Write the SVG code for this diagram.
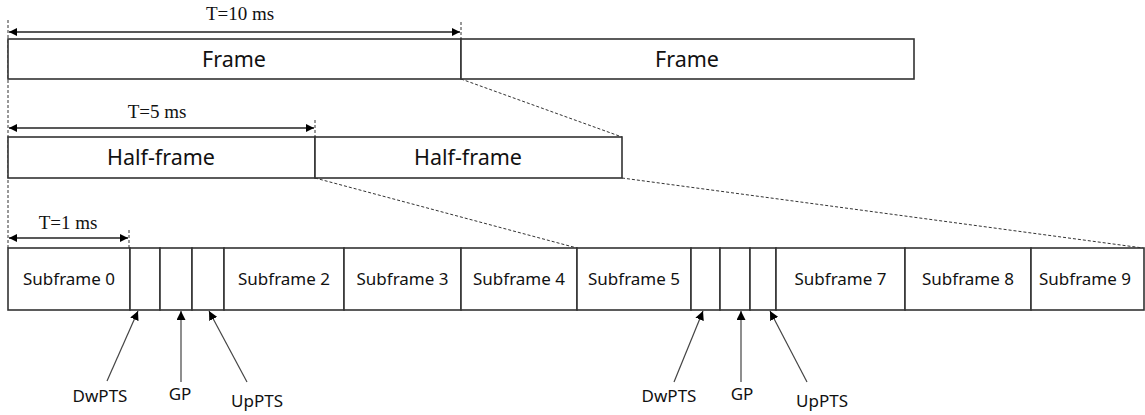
<svg xmlns="http://www.w3.org/2000/svg" width="1145" height="415" viewBox="0 0 1145 415">
<defs>
<marker id="ah" viewBox="0 0 10 10" refX="10" refY="5" markerWidth="8" markerHeight="8" markerUnits="userSpaceOnUse" orient="auto-start-reverse">
<path d="M0,0 L10,5 L0,10 z" fill="#000"/>
</marker>
<marker id="pt" viewBox="0 0 10 10" refX="10" refY="5" markerWidth="9" markerHeight="9" markerUnits="userSpaceOnUse" orient="auto">
<path d="M0,0 L10,5 L0,10 z" fill="#000"/>
</marker>
<style>
.box{fill:#fff;stroke:#333;stroke-width:1.6}
.lbl{font-family:"Noto Sans","Open Sans",sans-serif;font-size:21.5px;fill:#111;text-anchor:middle}
.sub{font-family:"Noto Sans","Open Sans",sans-serif;font-size:17px;fill:#111;text-anchor:middle}
.ann{font-family:"Noto Sans","Open Sans",sans-serif;font-size:17px;fill:#111;text-anchor:middle}
.tm{font-family:"Liberation Serif",serif;font-size:19px;fill:#111;text-anchor:middle}
.dash{fill:none;stroke:#333;stroke-width:1;stroke-dasharray:3,2}
.dim{fill:none;stroke:#222;stroke-width:1.4}
.ptr{fill:none;stroke:#444;stroke-width:1.2}
</style>
</defs>

<g id="connectors">
<line class="dash" x1="8" y1="20" x2="8" y2="248"/>
<line class="dash" x1="461" y1="22" x2="461" y2="39"/>
<line class="dash" x1="315" y1="120" x2="315" y2="137"/>
<line class="dash" x1="129" y1="230" x2="129" y2="248"/>
<line class="dash" x1="461" y1="79" x2="622" y2="137"/>
<line class="dash" x1="315" y1="178" x2="577" y2="248"/>
<line class="dash" x1="622" y1="178" x2="1143" y2="248"/>
<line class="dim" x1="9" y1="32" x2="460" y2="32" marker-start="url(#ah)" marker-end="url(#ah)"/>
<line class="dim" x1="9" y1="128" x2="314" y2="128" marker-start="url(#ah)" marker-end="url(#ah)"/>
<line class="dim" x1="9" y1="238" x2="128" y2="238" marker-start="url(#ah)" marker-end="url(#ah)"/>
<line class="ptr" x1="107" y1="381" x2="138" y2="311" marker-end="url(#pt)"/>
<line class="ptr" x1="181" y1="382" x2="181" y2="311" marker-end="url(#pt)"/>
<line class="ptr" x1="247" y1="382" x2="209" y2="311" marker-end="url(#pt)"/>
<line class="ptr" x1="674" y1="382" x2="703" y2="311" marker-end="url(#pt)"/>
<line class="ptr" x1="741" y1="382" x2="741" y2="311" marker-end="url(#pt)"/>
<line class="ptr" x1="807" y1="382" x2="770" y2="311" marker-end="url(#pt)"/>
</g>

<g id="dim-labels">
<text class="tm" x="240" y="20">T=10 ms</text>
<text class="tm" x="157" y="118">T=5 ms</text>
<text class="tm" x="68" y="229">T=1 ms</text>
</g>

<g id="frame1"><rect class="box" x="8" y="39" width="453" height="40"/><text class="lbl" x="234" y="67">Frame</text></g>
<g id="frame2"><rect class="box" x="461" y="39" width="453" height="40"/><text class="lbl" x="687" y="67">Frame</text></g>

<g id="half1"><rect class="box" x="8" y="137" width="307" height="41"/><text class="lbl" x="161" y="165">Half-frame</text></g>
<g id="half2"><rect class="box" x="315" y="137" width="307" height="41"/><text class="lbl" x="468" y="165">Half-frame</text></g>

<g id="sf0"><rect class="box" x="8" y="248" width="122" height="62"/><text class="sub" x="69" y="285">Subframe 0</text></g>
<g id="dwpts1"><rect class="box" x="130" y="248" width="30" height="62"/></g>
<g id="gp1"><rect class="box" x="160" y="248" width="32" height="62"/></g>
<g id="uppts1"><rect class="box" x="192" y="248" width="32" height="62"/></g>
<g id="sf2"><rect class="box" x="224" y="248" width="120" height="62"/><text class="sub" x="284" y="285">Subframe 2</text></g>
<g id="sf3"><rect class="box" x="344" y="248" width="117" height="62"/><text class="sub" x="402.5" y="285">Subframe 3</text></g>
<g id="sf4"><rect class="box" x="461" y="248" width="116" height="62"/><text class="sub" x="519" y="285">Subframe 4</text></g>
<g id="sf5"><rect class="box" x="577" y="248" width="114" height="62"/><text class="sub" x="634" y="285">Subframe 5</text></g>
<g id="dwpts2"><rect class="box" x="691" y="248" width="29" height="62"/></g>
<g id="gp2"><rect class="box" x="720" y="248" width="30" height="62"/></g>
<g id="uppts2"><rect class="box" x="750" y="248" width="26" height="62"/></g>
<g id="sf7"><rect class="box" x="776" y="248" width="129" height="62"/><text class="sub" x="840.5" y="285">Subframe 7</text></g>
<g id="sf8"><rect class="box" x="905" y="248" width="126" height="62"/><text class="sub" x="968" y="285">Subframe 8</text></g>
<g id="sf9"><rect class="box" x="1031" y="248" width="113" height="62"/><text class="sub" x="1085" y="285">Subframe 9</text></g>

<g id="lbl-dwpts1"><text class="ann" x="100" y="402">DwPTS</text></g>
<g id="lbl-gp1"><text class="ann" x="180" y="400">GP</text></g>
<g id="lbl-uppts1"><text class="ann" x="257" y="407">UpPTS</text></g>
<g id="lbl-dwpts2"><text class="ann" x="669" y="402">DwPTS</text></g>
<g id="lbl-gp2"><text class="ann" x="742" y="400">GP</text></g>
<g id="lbl-uppts2"><text class="ann" x="822" y="407">UpPTS</text></g>
</svg>
